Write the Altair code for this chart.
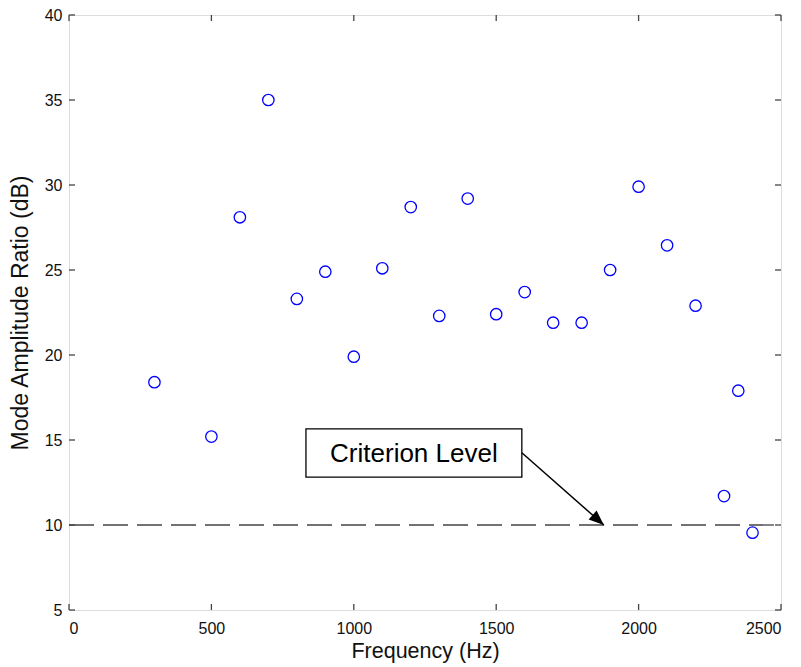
import altair as alt
import pandas as pd

# Data
freq = [300, 500, 600, 700, 800, 900, 1000, 1100, 1200, 1300, 1400, 1500,
        1600, 1700, 1800, 1900, 2000, 2100, 2200, 2300, 2350, 2400]
ratio = [18.4, 15.2, 28.1, 35.0, 23.3, 24.9, 19.9, 25.1, 28.7, 22.3, 29.2, 22.4,
         23.7, 21.9, 21.9, 25.0, 29.9, 26.45, 22.9, 11.7, 17.9, 9.55]

x_ticks = [0, 500, 1000, 1500, 2000, 2500]
y_ticks = [5, 10, 15, 20, 25, 30, 35, 40]

criterion_level = [10]
criterion_x = [0, 2500]

label_text = ["Criterion Level"]
box_x = [832, 1590]
box_y = [15.65, 12.82]
arrow_start = [1590, 14.25]
arrow_tip = [1878, 10]

FONT = "Liberation Sans"
FRAME = "#444444"

pts = pd.DataFrame({"f": freq, "r": ratio})
xt = pd.DataFrame({"v": x_ticks})
yt = pd.DataFrame({"v": y_ticks})

xscale = alt.Scale(domain=[0, 2500], nice=False, zero=False)
yscale = alt.Scale(domain=[5, 40], nice=False, zero=False)

xaxis = alt.Axis(values=x_ticks, format="d", ticks=False, tickSize=0, domain=False, grid=False,
                 labelFont=FONT, labelFontSize=16, labelColor="#111111", labelPadding=10,
                 title="Frequency (Hz)", titleFont=FONT, titleFontSize=21.5,
                 titleFontWeight="normal", titleColor="#111111",
                 titleBaseline="alphabetic", titleY=47)
yaxis = alt.Axis(values=y_ticks, format="d", ticks=False, tickSize=0, domain=False, grid=False,
                 labelFont=FONT, labelFontSize=16, labelColor="#111111", labelPadding=7,
                 title="Mode Amplitude Ratio (dB)", titleFont=FONT, titleFontSize=23,
                 titleFontWeight="normal", titleColor="#111111",
                 titleAngle=270, titleBaseline="alphabetic", titleAlign="center",
                 titleX=-42, titleY=297.5)

points = alt.Chart(pts).mark_point(shape="circle", filled=False, color="#0000ff",
                                   size=130, strokeWidth=1.3, opacity=1).encode(
    x=alt.X("f:Q", scale=xscale, axis=xaxis),
    y=alt.Y("r:Q", scale=yscale, axis=yaxis),
)

crit = alt.Chart(pd.DataFrame({"y": criterion_level, "x1": [criterion_x[0]], "x2": [criterion_x[1]]})).mark_rule(
    color=FRAME, strokeWidth=1.3, strokeDash=[25, 9]).encode(
    x=alt.X("x1:Q", scale=xscale), x2="x2:Q", y=alt.Y("y:Q", scale=yscale))

# inward ticks on all four sides
tick_style = dict(color=FRAME, strokeWidth=1.3)
xb = alt.Chart(xt).mark_rule(**tick_style).encode(
    x=alt.X("v:Q", scale=xscale), y=alt.value(595), y2=alt.value(589))
xtop = alt.Chart(xt).mark_rule(**tick_style).encode(
    x=alt.X("v:Q", scale=xscale), y=alt.value(0), y2=alt.value(6))
yl = alt.Chart(yt).mark_rule(**tick_style).encode(
    y=alt.Y("v:Q", scale=yscale), x=alt.value(0), x2=alt.value(6))
yr = alt.Chart(yt).mark_rule(**tick_style).encode(
    y=alt.Y("v:Q", scale=yscale), x=alt.value(712), x2=alt.value(706))

box_df = pd.DataFrame({"x1": [box_x[0]], "x2": [box_x[1]], "y1": [box_y[0]], "y2": [box_y[1]]})
box = alt.Chart(box_df).mark_rect(fill="white", stroke="#000000", strokeWidth=1.3).encode(
    x=alt.X("x1:Q", scale=xscale), x2="x2:Q",
    y=alt.Y("y1:Q", scale=yscale), y2="y2:Q")

txt_df = pd.DataFrame({"x": [(box_x[0] + box_x[1]) / 2], "y": [(box_y[0] + box_y[1]) / 2], "t": label_text})
txt = alt.Chart(txt_df).mark_text(font=FONT, fontSize=26, color="#000000",
                                  align="center", baseline="middle", dy=1).encode(
    x=alt.X("x:Q", scale=xscale), y=alt.Y("y:Q", scale=yscale), text="t:N")

arr_df = pd.DataFrame({"x1": [arrow_start[0]], "y1": [arrow_start[1]],
                       "x2": [arrow_tip[0]], "y2": [arrow_tip[1]]})
arrow_line = alt.Chart(arr_df).mark_rule(color="#000000", strokeWidth=1.5).encode(
    x=alt.X("x1:Q", scale=xscale), y=alt.Y("y1:Q", scale=yscale),
    x2="x2:Q", y2="y2:Q")
arrow_head = alt.Chart(arr_df).mark_point(
    shape="M0,0 L-0.4,1 L0.4,1 Z", filled=True, color="#000000", size=900,
    angle=131.4, opacity=1, strokeWidth=0).encode(
    x=alt.X("x2:Q", scale=xscale), y=alt.Y("y2:Q", scale=yscale))

chart = alt.layer(crit, points, box, txt, arrow_line, arrow_head, xb, xtop, yl, yr).properties(
    width=712, height=595,
    padding={"left": 61, "top": 7, "right": 12, "bottom": 56},
    autosize=alt.AutoSizeParams(type="none"),
).configure_view(stroke=FRAME, strokeWidth=1.3).configure(background="white")

chart.save("out.html", embed_options={"renderer": "svg", "actions": False})
